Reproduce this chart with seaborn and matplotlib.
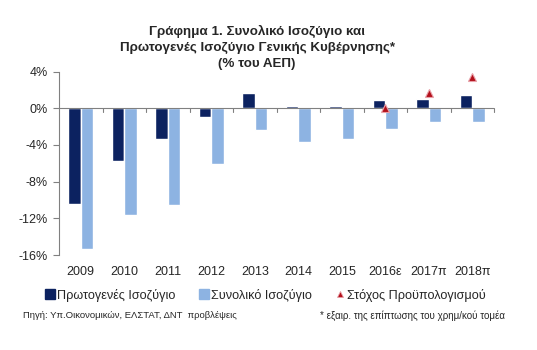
import matplotlib
matplotlib.use("Agg")
import matplotlib.pyplot as plt
from matplotlib.lines import Line2D
import seaborn as sns
import pandas as pd
import numpy as np

years = ["2009", "2010", "2011", "2012", "2013", "2014", "2015", "2016ε", "2017π", "2018π"]
primary = [-10.4, -5.8, -3.3, -0.9, 1.7, 0.3, 0.2, 0.9, 1.0, 1.5]
total = [-15.3, -11.6, -10.6, -6.1, -2.4, -3.7, -3.4, -2.3, -1.5, -1.5]
target = [np.nan, np.nan, np.nan, np.nan, np.nan, np.nan, np.nan, 0.0, 1.7, 3.4]
series_names = ["Πρωτογενές Ισοζύγιο", "Συνολικό Ισοζύγιο"]
target_name = "Στόχος Προϋπολογισμού"
yticks = [-16, -12, -8, -4, 0, 4]

dark = "#0c2260"
light = "#8db3e2"
red = "#b3101b"

sns.set_theme(style="white")
plt.rcParams["font.family"] = ["Liberation Sans", "DejaVu Sans"]

df = pd.DataFrame({
    "year": years * 2,
    "value": primary + total,
    "series": [series_names[0]] * len(years) + [series_names[1]] * len(years),
})
tdf = pd.DataFrame({"year": years, "value": target})

fig = plt.figure(figsize=(5.37, 3.5), dpi=100)
ax = fig.add_axes([0.1099, 0.2714, 0.8101, 0.524])

sns.barplot(data=df, x="year", y="value", hue="series", order=years,
            hue_order=series_names, palette=[dark, light], width=0.58,
            saturation=1, ax=ax, legend=False, errorbar=None)
sns.pointplot(data=tdf, x="year", y="value", order=years, markers="^",
              linestyles="none", color=red, markersize=6,
              markeredgecolor="#e8a0a8", markeredgewidth=0.8,
              errorbar=None, ax=ax)

ax.set_xlim(-0.5, len(years) - 0.5)
ax.set_ylim(-16, 4)
ax.set_yticks(yticks)
ax.set_yticklabels([f"{t}%" for t in yticks], fontsize=9)
ax.set_xlabel("")
ax.set_ylabel("")
for s in ["top", "right", "bottom"]:
    ax.spines[s].set_visible(False)
ax.spines["left"].set_color("#808080")
ax.spines["left"].set_linewidth(0.8)
ax.axhline(0, color="#808080", lw=0.8, zorder=1)
ax.tick_params(axis="y", left=True, length=4, color="#808080", width=0.8, pad=4)
ax.tick_params(axis="x", bottom=False, length=0, labelsize=9, pad=8)
for lab in ax.get_xticklabels():
    lab.set_fontsize(9)
# tick marks at category boundaries on zero line
for b in np.arange(0.5, len(years) - 0.5 + 1e-9, 1.0):
    ax.plot([b, b], [0, -0.45], color="#808080", lw=0.8, clip_on=False, zorder=1)

H = 350.0
tx = 257 / 537
fig.text(tx, 1 - 35 / H, "Γράφημα 1. Συνολικό Ισοζύγιο και", ha="center", va="baseline",
         fontsize=9.6, fontweight="bold")
fig.text(tx, 1 - 50.5 / H, "Πρωτογενές Ισοζύγιο Γενικής Κυβέρνησης*", ha="center",
         va="baseline", fontsize=9.6, fontweight="bold")
fig.text(tx, 1 - 66.5 / H, "(% του ΑΕΠ)", ha="center", va="baseline",
         fontsize=9.6, fontweight="bold")

handles = [
    Line2D([], [], marker="s", linestyle="none", color=dark, markersize=7),
    Line2D([], [], marker="s", linestyle="none", color=light, markersize=7),
    Line2D([], [], marker="^", linestyle="none", color=red, markersize=5,
           markeredgecolor="#e8a0a8", markeredgewidth=0.6),
]
fig.legend(handles, series_names + [target_name], loc="center",
           bbox_to_anchor=(0.4935, 1 - 295 / H), ncol=3, frameon=False, fontsize=9.1,
           handletextpad=0.05, columnspacing=1.75, handlelength=1.0)

fig.text(0.043, 1 - 316 / H, "Πηγή: Υπ.Οικονομικών, ΕΛΣΤΑΤ, ΔΝΤ  προβλέψεις",
         ha="left", va="center", fontsize=6.8)
fig.text(0.941, 1 - 316 / H, "* εξαιρ. της επίπτωσης του χρημ/κού τομέα",
         ha="right", va="center", fontsize=7.0)

fig.savefig("out.png", dpi=100)
